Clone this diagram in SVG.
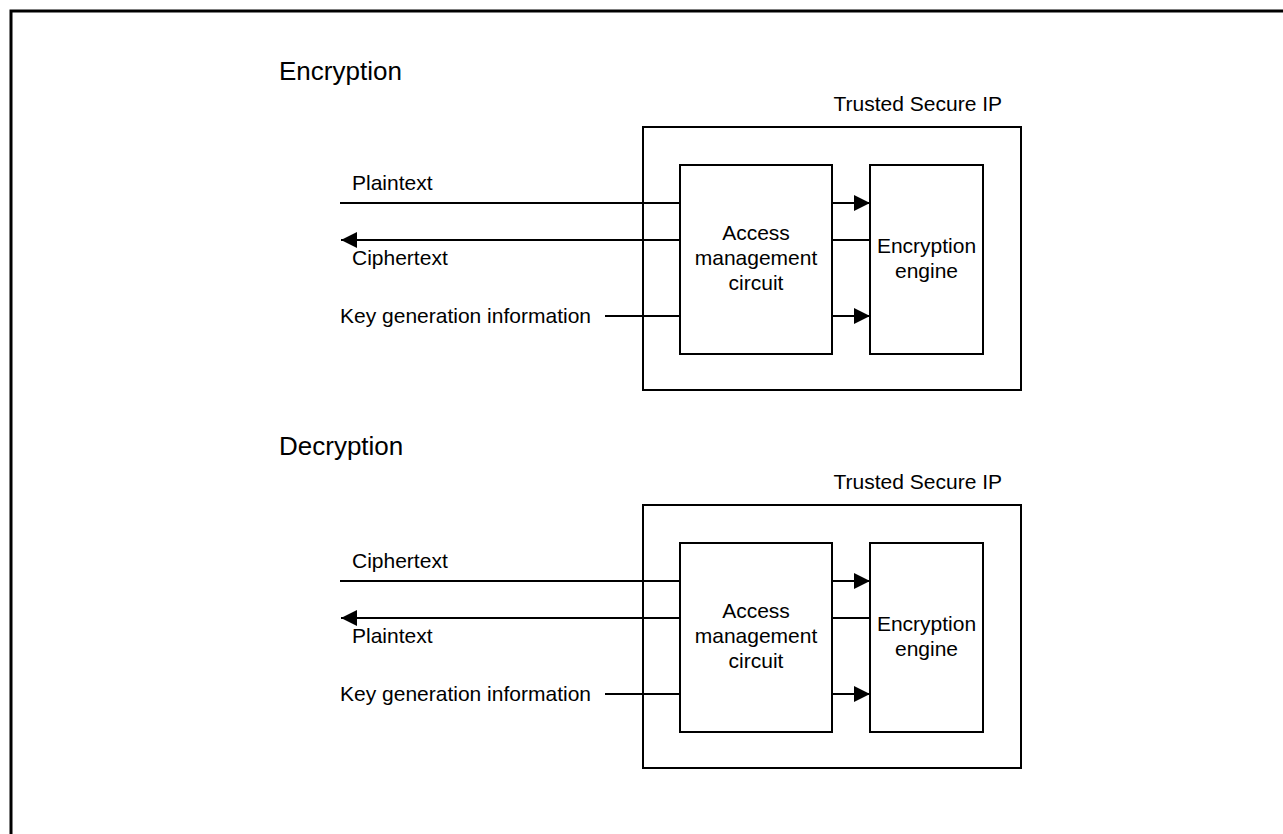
<svg xmlns="http://www.w3.org/2000/svg" width="1283" height="834" viewBox="0 0 1283 834">
<style>
.t{font-family:"Liberation Sans",Arial,sans-serif;font-size:21px;fill:#000}
.h{font-family:"Liberation Sans",Arial,sans-serif;font-size:26px;fill:#000}
.b{fill:#fff;stroke:#000;stroke-width:2}
.l{stroke:#000;stroke-width:1.8;fill:none}
.a{marker-end:url(#ah)}
</style>
<defs>
<marker id="ah" markerUnits="userSpaceOnUse" markerWidth="16" markerHeight="16" refX="16" refY="8" orient="auto">
<path d="M0,0 L16,8 L0,16 z" fill="#000"/>
</marker>
</defs>
<rect x="11" y="11" width="1400" height="1000" fill="#fff" stroke="#000" stroke-width="3"/>

<g id="section-encryption">
<text class="h" x="279" y="80">Encryption</text>
<g id="enc-trusted-ip">
<rect class="b" x="643" y="127" width="378" height="263"/>
<text class="t" x="1002" y="111" text-anchor="end">Trusted Secure IP</text>
</g>
<g id="enc-access">
<rect class="b" x="680" y="165" width="152" height="189"/>
<text class="t" x="756" y="240" text-anchor="middle">Access</text>
<text class="t" x="756" y="265" text-anchor="middle">management</text>
<text class="t" x="756" y="290" text-anchor="middle">circuit</text>
</g>
<g id="enc-engine">
<rect class="b" x="870" y="165" width="113" height="189"/>
<text class="t" x="926.5" y="253" text-anchor="middle">Encryption</text>
<text class="t" x="926.5" y="278" text-anchor="middle">engine</text>
</g>
<g id="enc-labels">
<text class="t" x="352" y="190">Plaintext</text>
<text class="t" x="352" y="265">Ciphertext</text>
<text class="t" x="340" y="323">Key generation information</text>
</g>
</g>

<g id="section-decryption">
<text class="h" x="279" y="455">Decryption</text>
<g id="dec-trusted-ip">
<rect class="b" x="643" y="505" width="378" height="263"/>
<text class="t" x="1002" y="489" text-anchor="end">Trusted Secure IP</text>
</g>
<g id="dec-access">
<rect class="b" x="680" y="543" width="152" height="189"/>
<text class="t" x="756" y="618" text-anchor="middle">Access</text>
<text class="t" x="756" y="643" text-anchor="middle">management</text>
<text class="t" x="756" y="668" text-anchor="middle">circuit</text>
</g>
<g id="dec-engine">
<rect class="b" x="870" y="543" width="113" height="189"/>
<text class="t" x="926.5" y="631" text-anchor="middle">Encryption</text>
<text class="t" x="926.5" y="656" text-anchor="middle">engine</text>
</g>
<g id="dec-labels">
<text class="t" x="352" y="568">Ciphertext</text>
<text class="t" x="352" y="643">Plaintext</text>
<text class="t" x="340" y="701">Key generation information</text>
</g>
</g>

<g id="connectors">
<line class="l" x1="340" y1="203" x2="680" y2="203"/>
<line class="l a" x1="680" y1="240" x2="341" y2="240"/>
<line class="l" x1="605" y1="316" x2="680" y2="316"/>
<line class="l a" x1="832" y1="203" x2="870" y2="203"/>
<line class="l" x1="832" y1="240" x2="870" y2="240"/>
<line class="l a" x1="832" y1="316" x2="870" y2="316"/>

<line class="l" x1="340" y1="581" x2="680" y2="581"/>
<line class="l a" x1="680" y1="618" x2="341" y2="618"/>
<line class="l" x1="605" y1="694" x2="680" y2="694"/>
<line class="l a" x1="832" y1="581" x2="870" y2="581"/>
<line class="l" x1="832" y1="618" x2="870" y2="618"/>
<line class="l a" x1="832" y1="694" x2="870" y2="694"/>
</g>
</svg>
